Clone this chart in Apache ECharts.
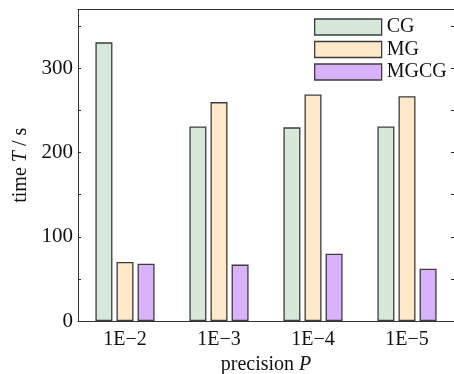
<!DOCTYPE html>
<html><head><meta charset="utf-8">
<script src="https://cdn.jsdelivr.net/npm/echarts@6/dist/echarts.min.js"></script>
<style>html,body{margin:0;padding:0;background:#fff}#c{width:454px;height:374px}</style>
</head><body><div id="c"></div>
<script>
const categories = ['1E\u22122', '1E\u22123', '1E\u22124', '1E\u22125'];
const seriesNames = ['CG', 'MG', 'MGCG'];
const cgValues = [331, 231, 230, 231];
const mgValues = [70, 260, 269, 267];
const mgcgValues = [68, 67, 80, 62];
const yTickLabels = [0, 100, 200, 300];

const FONT = '"Liberation Serif", "Times New Roman", serif';
const colors = ['#d5e8da', '#fde8c9', '#d8b3fb'];
const border = '#3c3c3c';
const chart = echarts.init(document.getElementById('c'), null, {renderer: 'canvas'});
const mk = (name, data, i) => ({
  name, type: 'bar', data, barWidth: 17, barGap: '24%',
  xAxisIndex: 0, yAxisIndex: 0,
  itemStyle: {color: colors[i], borderColor: border, borderWidth: 1.3}
});
chart.setOption({
  animation: false,
  textStyle: {fontFamily: FONT},
  grid: {left: 78, right: 0, top: 9.5, bottom: 53, containLabel: false, outerBoundsMode: 'none'},
  legend: {
    orient: 'vertical', left: 314, top: 17, itemWidth: 67, itemHeight: 16, itemGap: 2.5,
    padding: 0, icon: 'rect',
    itemStyle: {borderColor: border, borderWidth: 1.3},
    textStyle: {fontFamily: FONT, fontSize: 20, color: '#111'},
    data: seriesNames
  },
  xAxis: [{
    type: 'category', data: categories, position: 'bottom',
    axisLine: {onZero: false, lineStyle: {color: '#333', width: 1}},
    axisTick: {inside: true, alignWithLabel: true, length: 4, lineStyle: {color: '#333'}},
    axisLabel: {fontFamily: FONT, fontSize: 20, color: '#111', margin: 9},
    name: '{n|precision }{i|P}', nameLocation: 'middle', nameGap: 33,
    nameTextStyle: {rich: {n: {fontFamily: FONT, fontSize: 20, color: '#111'}, i: {fontFamily: FONT, fontSize: 20, fontStyle: 'italic', color: '#111'}}}
  }, {
    type: 'category', data: categories, position: 'top',
    axisLine: {onZero: false, lineStyle: {color: '#333', width: 1}},
    axisTick: {inside: true, alignWithLabel: true, length: 4, lineStyle: {color: '#333'}},
    axisLabel: {show: false}
  }],
  yAxis: [{
    type: 'value', min: 0, max: 370, interval: 50,
    axisLine: {show: true, onZero: false, lineStyle: {color: '#333', width: 1}},
    axisTick: {show: true, inside: true, length: 3, lineStyle: {color: '#333'}},
    splitLine: {show: false},
    axisLabel: {fontFamily: FONT, fontSize: 21, color: '#111', margin: 5,
      formatter: v => (yTickLabels.indexOf(v) >= 0 ? String(v) : '')},
    name: '{n|time }{i|T}{n| / s}', nameLocation: 'middle', nameGap: 47,
    nameTextStyle: {rich: {n: {fontFamily: FONT, fontSize: 20, color: '#111'}, i: {fontFamily: FONT, fontSize: 20, fontStyle: 'italic', color: '#111'}}}
  }, {
    type: 'value', min: 0, max: 370, interval: 50, position: 'right',
    axisLine: {show: false, onZero: false},
    axisTick: {show: true, inside: true, length: 3, lineStyle: {color: '#333'}},
    splitLine: {show: false},
    axisLabel: {show: false}
  }],
  series: [mk('CG', cgValues, 0), mk('MG', mgValues, 1), mk('MGCG', mgcgValues, 2)]
});
</script></body></html>
